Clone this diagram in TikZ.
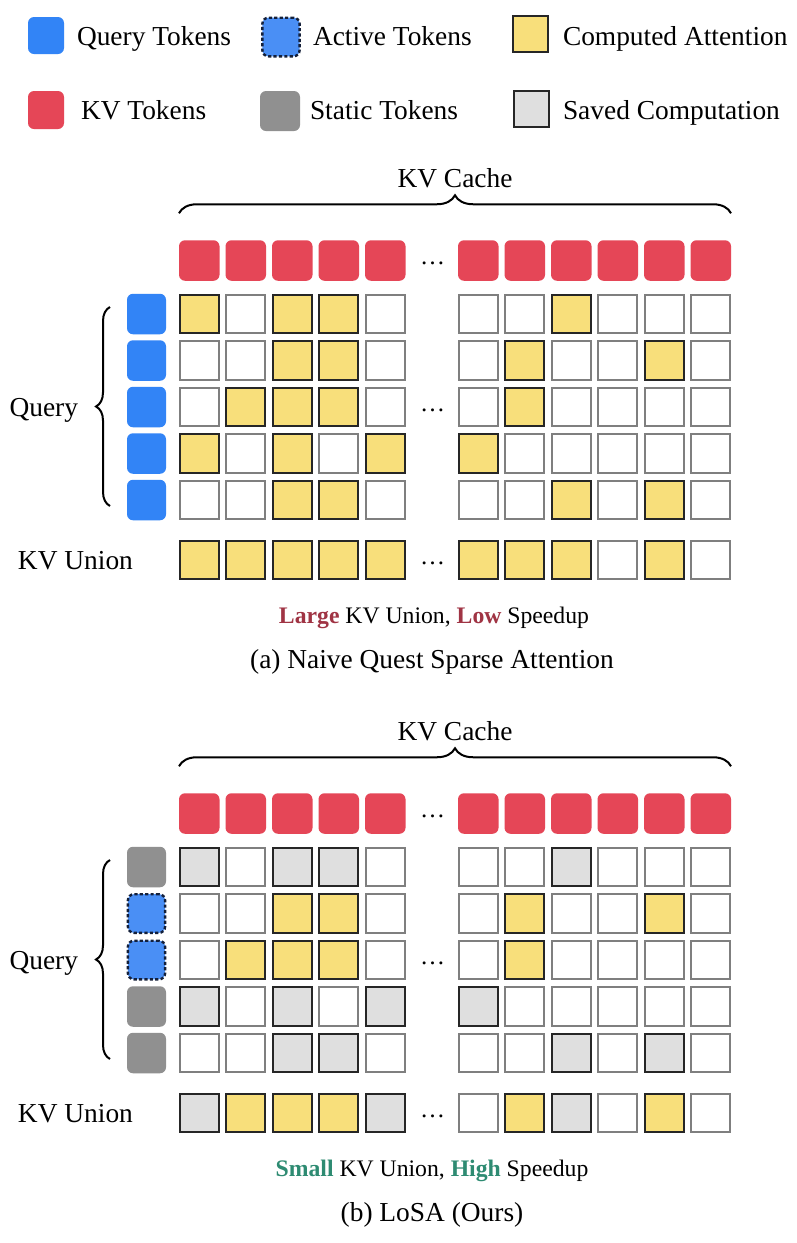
\documentclass[tikz,border=0pt]{standalone}
\usepackage{fontspec}
\setmainfont{Liberation Serif}
\usetikzlibrary{decorations.pathreplacing,calc}
\definecolor{qblue}{HTML}{3284F6}
\definecolor{ablue}{HTML}{4A8FF5}
\definecolor{dashblue}{HTML}{14203A}
\definecolor{kvred}{HTML}{E54657}
\definecolor{sgray}{HTML}{909090}
\definecolor{yel}{HTML}{F8DF7B}
\definecolor{lgray}{HTML}{DFDFDF}
\definecolor{cellgray}{HTML}{7F7F7F}
\definecolor{darkred}{HTML}{A03444}
\definecolor{tgreen}{HTML}{2E8B72}
\newcommand{\cellrow}[3]{%
  \foreach \t [count=\i from 0] in {#3} {
    \pgfmathtruncatemacro\cc{\i<5 ? \i : \i+1}
    \node[cellstyle=\t] (#1-\cc) at ({199.25+46.5*\cc}, #2) {};
  }}
\newcommand{\kvrow}[2]{%
  \foreach \i in {0,...,10} {
    \pgfmathtruncatemacro\cc{\i<5 ? \i : \i+1}
    \node[kvtok] (#1-\cc) at ({199.25+46.5*\cc}, #2) {};
  }}
\begin{document}
\begin{tikzpicture}[x=0.5pt,y=-0.5pt,
  every node/.style={inner sep=0pt,outer sep=0pt},
  txt/.style={font=\fontsize{13.7}{16}\selectfont},
  dots/.style={font=\fontsize{12.5}{14}\selectfont,anchor=base},
  smalltxt/.style={font=\fontsize{11.85}{14}\selectfont},
  tok/.style={minimum width=19.5pt,minimum height=20.25pt,rounded corners=3pt},
  kvtok/.style={tok,minimum width=20.25pt,fill=kvred},
  qtok/.style={tok,fill=qblue},
  atok/.style={tok,fill=ablue,draw=dashblue,dash pattern=on 1.6pt off 1.1pt,line width=1.2pt,minimum width=18.6pt,minimum height=19.3pt},
  stok/.style={tok,fill=sgray},
  cellstyle/.code={\edef\tmpst{/tikz/cell#1}\expandafter\pgfkeysalso\expandafter{\tmpst}},
  cellW/.style={draw=cellgray,fill=white,line width=1pt,minimum size=19.3pt},
  cellY/.style={draw=black!85,fill=yel,line width=1pt,minimum size=19.3pt},
  cellG/.style={draw=black!85,fill=lgray,line width=1pt,minimum size=19.3pt},
  bracestyle/.style={decorate,decoration={brace,amplitude=#1},line width=1pt},
]
\fill[white] (0,0) rectangle (797,1243);
\useasboundingbox (0,0) rectangle (797,1243);

% ---------------- legend ----------------
\node[qtok,minimum width=18pt,minimum height=18.5pt] (lq) at (46,35.5) {};
\node[txt,anchor=base west] (lqt) at (77,45) {Query Tokens};
\node[atok] (la) at (281,37) {};
\node[txt,anchor=base west] (lat) at (313,45) {Active Tokens};
\node[cellY,minimum width=17.5pt,minimum height=18.2pt] (lc) at (530.5,34) {};
\node[txt,anchor=base west] (lct) at (563,45) {Computed Attention};
\node[kvtok,minimum width=18pt,minimum height=19pt] (lk) at (46,110) {};
\node[txt,anchor=base west] (lkt) at (81,119) {KV Tokens};
\node[stok,minimum width=20pt,minimum height=20pt] (ls) at (280,111) {};
\node[txt,anchor=base west] (lst) at (310,119) {Static Tokens};
\node[cellG,minimum width=17.5pt,minimum height=18.2pt] (lg) at (531.5,109) {};
\node[txt,anchor=base west] (lgt) at (563,119) {Saved Computation};

% ---------------- panel (a) ----------------
\kvrow{akv}{260.5}
\node[dots] (akvdots) at (432.5,264) {…};
\draw[bracestyle=9pt] ($(akv-0.north west)+(0,-27)$) -- ($(akv-11.north east)+(0,-27)$);
\node[txt,anchor=base] (akvcache) at (455,187) {KV Cache};

\foreach \r/\y in {0/314,1/360.5,2/407,3/453.5,4/500} {
  \node[qtok] (aq\r) at (146.5,\y) {};
}
\cellrow{ar0}{314}{Y,W,Y,Y,W,W,W,Y,W,W,W}
\cellrow{ar1}{360.5}{W,W,Y,Y,W,W,Y,W,W,Y,W}
\cellrow{ar2}{407}{W,Y,Y,Y,W,W,Y,W,W,W,W}
\cellrow{ar3}{453.5}{Y,W,Y,W,Y,Y,W,W,W,W,W}
\cellrow{ar4}{500}{W,W,Y,Y,W,W,W,Y,W,Y,W}
\node[dots] (agdots) at (432.5,411) {…};
\draw[bracestyle=7pt] (110,506) -- (110,307);
\node[txt,anchor=base east] (aquery) at (78,416) {Query};

\cellrow{au}{560}{Y,Y,Y,Y,Y,Y,Y,Y,W,Y,W}
\node[dots] (audots) at (432.5,564) {…};
\node[txt,anchor=base west] (aunion) at (18,569) {KV Union};

\node[smalltxt,anchor=base] (acap1) at (434,623) {\textcolor{darkred}{\textbf{Large}} KV Union, \textcolor{darkred}{\textbf{Low}} Speedup};
\node[txt,anchor=base] (acap2) at (432,668) {(a) Naive Quest Sparse Attention};

% ---------------- panel (b) ----------------
\kvrow{bkv}{813.5}
\node[dots] (bkvdots) at (432.5,817) {…};
\draw[bracestyle=9pt] ($(bkv-0.north west)+(0,-27)$) -- ($(bkv-11.north east)+(0,-27)$);
\node[txt,anchor=base] (bkvcache) at (455,740) {KV Cache};

\node[stok] (bq0) at (146.5,867) {};
\node[atok] (bq1) at (146.5,913.5) {};
\node[atok] (bq2) at (146.5,960) {};
\node[stok] (bq3) at (146.5,1006.5) {};
\node[stok] (bq4) at (146.5,1053) {};
\cellrow{br0}{867}{G,W,G,G,W,W,W,G,W,W,W}
\cellrow{br1}{913.5}{W,W,Y,Y,W,W,Y,W,W,Y,W}
\cellrow{br2}{960}{W,Y,Y,Y,W,W,Y,W,W,W,W}
\cellrow{br3}{1006.5}{G,W,G,W,G,G,W,W,W,W,W}
\cellrow{br4}{1053}{W,W,G,G,W,W,W,G,W,G,W}
\node[dots] (bgdots) at (432.5,964) {…};
\draw[bracestyle=7pt] (110,1059) -- (110,860);
\node[txt,anchor=base east] (bquery) at (78,969) {Query};

\cellrow{bu}{1113}{G,Y,Y,Y,G,W,Y,G,W,Y,W}
\node[dots] (budots) at (432.5,1117) {…};
\node[txt,anchor=base west] (bunion) at (18,1122) {KV Union};

\node[smalltxt,anchor=base] (bcap1) at (432,1176) {\textcolor{tgreen}{\textbf{Small}} KV Union, \textcolor{tgreen}{\textbf{High}} Speedup};
\node[txt,anchor=base] (bcap2) at (432,1221) {(b) LoSA (Ours)};
\end{tikzpicture}
\end{document}
